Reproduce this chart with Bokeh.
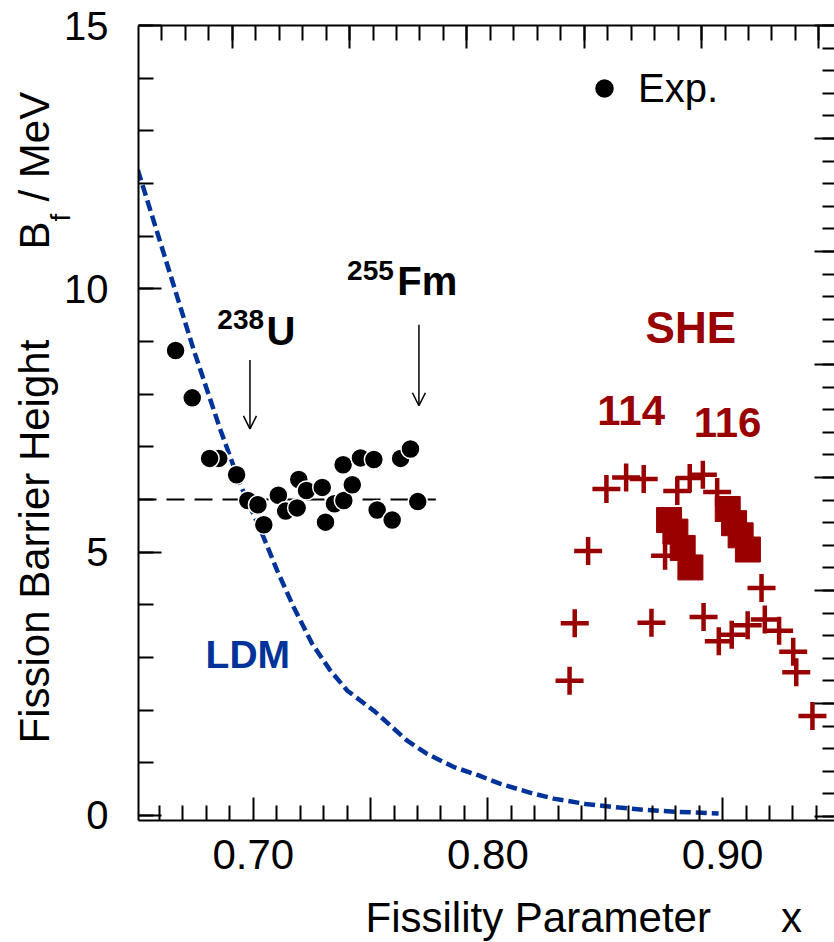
import math
from bokeh.plotting import figure
from bokeh.models import (Range1d, LinearAxis, SingleIntervalTicker, FixedTicker,
                          Label, Arrow, OpenHead, Legend, LegendItem,
                          NumeralTickFormatter)
from bokeh.embed import file_html
from bokeh.resources import INLINE

# ---------------- data ----------------
exp_x = [0.6669, 0.6740, 0.6853, 0.6814, 0.6929, 0.6977, 0.7020, 0.7045, 0.7107,
         0.7138, 0.7187, 0.7194, 0.7227, 0.7294, 0.7308, 0.7346, 0.7386, 0.7383,
         0.7422, 0.7457, 0.7514, 0.7528, 0.7592, 0.7628, 0.7670, 0.7701]
exp_y = [8.83, 7.93, 6.78, 6.78, 6.47, 5.98, 5.90, 5.52, 6.08,
         5.78, 5.84, 6.38, 6.17, 6.23, 5.57, 5.92, 5.98, 6.66,
         6.28, 6.79, 6.76, 5.80, 5.61, 6.78, 6.96, 5.96]

she_cross_x = [0.8505, 0.8589, 0.8664, 0.8807, 0.8860, 0.8916, 0.8977, 0.8427,
               0.8755, 0.9166, 0.8370, 0.8697, 0.8919, 0.8984, 0.9039, 0.9107,
               0.9180, 0.9241, 0.9301, 0.9314, 0.8348, 0.9383]
she_cross_y = [6.20, 6.42, 6.39, 6.16, 6.41, 6.47, 6.14, 5.02,
               4.93, 4.32, 3.65, 3.66, 3.77, 3.31, 3.43, 3.61,
               3.72, 3.51, 3.11, 2.72, 2.56, 1.89]

she_square_x = [0.8772, 0.8799, 0.8830, 0.8863, 0.9022, 0.9049, 0.9077, 0.9108]
she_square_y = [5.61, 5.39, 5.08, 4.71, 5.82, 5.55, 5.32, 5.05]

ldm_x = [0.6508, 0.6747, 0.6861, 0.6946, 0.7038, 0.7102, 0.7173, 0.7251, 0.7329,
         0.7401, 0.7514, 0.7656, 0.7741, 0.7855, 0.7961, 0.8054, 0.8190, 0.8280,
         0.8416, 0.8560, 0.8663, 0.8800, 0.8983]
ldm_y = [12.26, 8.83, 7.31, 6.27, 5.35, 4.65, 3.95, 3.26, 2.75,
         2.37, 1.99, 1.42, 1.17, 0.92, 0.76, 0.60, 0.42, 0.32,
         0.22, 0.15, 0.11, 0.07, 0.04]

mean_x = [0.6511, 0.7778]
mean_y = [6.0, 6.0]

x_major_ticks = [0.70, 0.75, 0.80, 0.85, 0.90]
x_minor_ticks = [0.66, 0.67, 0.68, 0.69, 0.71, 0.72, 0.73, 0.74, 0.76, 0.77,
                 0.78, 0.79, 0.81, 0.82, 0.83, 0.84, 0.86, 0.87, 0.88, 0.89,
                 0.91, 0.92, 0.93, 0.94]
x_tick_labels = {0.70: "0.70", 0.75: "", 0.80: "0.80", 0.85: "", 0.90: "0.90"}

NB = "\u00a0"
x_title = "Fissility Parameter" + NB * 6 + "x"
y_title = "Fission Barrier Height" + NB * 7 + "\u2009" + "B" + "\u2009" + NB + "/" + NB + "MeV"
y_title_sub = "f"

# ---------------- styles ----------------
RED = "#990000"
BLUE = "#003399"
FONT = "Liberation Sans"

X0, X1 = 0.6511, 0.9477
Y0, Y1 = -0.095, 15.0

p = figure(width=834, height=942,
           x_range=Range1d(X0, X1), y_range=Range1d(Y0, Y1),
           output_backend="svg", toolbar_location=None)
p.min_border_left = 138
p.min_border_right = 0
p.min_border_top = 25
p.min_border_bottom = 122
p.outline_line_color = None
p.background_fill_color = "white"
p.border_fill_color = "white"
p.grid.visible = False

def style_axis(ax, tick_in, minor_in):
    ax.axis_line_width = 2
    ax.axis_line_color = "black"
    ax.major_tick_in = tick_in
    ax.major_tick_out = 0
    ax.minor_tick_in = minor_in
    ax.minor_tick_out = 0
    ax.major_tick_line_width = 2
    ax.minor_tick_line_width = 2
    ax.major_tick_line_color = "black"
    ax.minor_tick_line_color = "black"
    ax.major_label_text_font = FONT
    ax.major_label_text_color = "black"

def ticks_only(ax):
    ax.major_label_text_font_size = "1px"
    ax.major_label_text_color = None
    ax.major_label_standoff = 0

# bottom axis
xa = p.xaxis[0]
xa.ticker = FixedTicker(ticks=x_major_ticks, minor_ticks=x_minor_ticks)
xa.formatter = NumeralTickFormatter(format="0.00")
xa.major_label_overrides = x_tick_labels
style_axis(xa, 23, 15)
xa.major_label_text_font_size = "42px"
xa.major_label_standoff = 19

# left axis
ya = p.yaxis[0]
ya.ticker = SingleIntervalTicker(interval=5, num_minor_ticks=5)
style_axis(ya, 23, 15)
ya.major_label_text_font_size = "40px"
ya.major_label_standoff = 30

# top axis (own scale, ticks only)
p.extra_x_ranges = {"top": Range1d(X0 + 0.00895, X1 + 0.00895)}
ta = LinearAxis(x_range_name="top",
                ticker=SingleIntervalTicker(interval=0.05, num_minor_ticks=5))
style_axis(ta, 23, 15)
ticks_only(ta)
p.add_layout(ta, "above")

# right axis (own scale, ticks only)
p.extra_y_ranges = {"right": Range1d(-0.18, 35.0)}
ra = LinearAxis(y_range_name="right",
                ticker=SingleIntervalTicker(interval=5, num_minor_ticks=5))
style_axis(ra, 20, 12)
ra.axis_line_color = None
ticks_only(ra)
p.add_layout(ra, "right")

# ---------------- glyphs ----------------
p.line(ldm_x, ldm_y, line_color=BLUE, line_width=4.5, line_dash="11 5")
p.line(mean_x, mean_y, line_color="black", line_width=2, line_dash="18 10")

r_exp = p.scatter(exp_x, exp_y, marker="circle", size=19, fill_color="black",
                  line_color="white", line_width=1.5)
p.scatter(she_cross_x, she_cross_y, marker="cross", size=28, line_color=RED,
          line_width=4.5)
p.scatter(she_square_x, she_square_y, marker="square", size=25, fill_color=RED,
          line_color=RED, line_width=1)

# ---------------- annotations ----------------
def txt(x, y, s, size, color="black", bold=True, place="center", **kw):
    lab = Label(x=x, y=y, text=s, text_font=FONT, text_font_size=f"{size}px",
                text_color=color, text_font_style="bold" if bold else "normal",
                text_align=kw.pop("align", "left"),
                text_baseline=kw.pop("baseline", "alphabetic"), **kw)
    p.add_layout(lab, place)

txt(0.6847, 9.42, "238", 28)
txt(0.7057, 9.205, "U", 40)
txt(0.7400, 10.34, "255", 28)
txt(0.7614, 10.155, "Fm", 40)
txt(0.8672, 9.26, "SHE", 44, RED)
txt(0.8466, 7.69, "114", 42, RED)
txt(0.8877, 7.47, "116", 42, RED)
txt(0.6797, 3.06, "LDM", 39, BLUE)

p.add_layout(Arrow(end=OpenHead(size=13, line_width=1.5, line_color="black"),
                   x_start=0.6986, y_start=8.65, x_end=0.6986, y_end=7.34,
                   line_width=1.5, line_color="black"))
p.add_layout(Arrow(end=OpenHead(size=13, line_width=1.5, line_color="black"),
                   x_start=0.7706, y_start=9.32, x_end=0.7706, y_end=7.78,
                   line_width=1.5, line_color="black"))

# axis titles: labels living in the side panels (so they are not clipped)
txt(0.74785, -1.934, x_title, 42, bold=False, place="below")
ang = math.pi / 2
txt(0.60682, 1.367, y_title, 42, bold=False, angle=ang, place="left")
txt(0.61800, 11.278, y_title_sub, 28, bold=False, angle=ang, place="above")

# legend
leg = Legend(items=[LegendItem(label="Exp.", renderers=[r_exp])],
             location=(441, 707), padding=0, margin=0, spacing=0,
             glyph_width=50, glyph_height=50, label_standoff=9,
             label_text_font=FONT, label_text_font_size="40px",
             label_text_color="black",
             border_line_color=None, background_fill_alpha=0)
p.add_layout(leg)

open("out.html", "w").write(file_html(p, INLINE))
